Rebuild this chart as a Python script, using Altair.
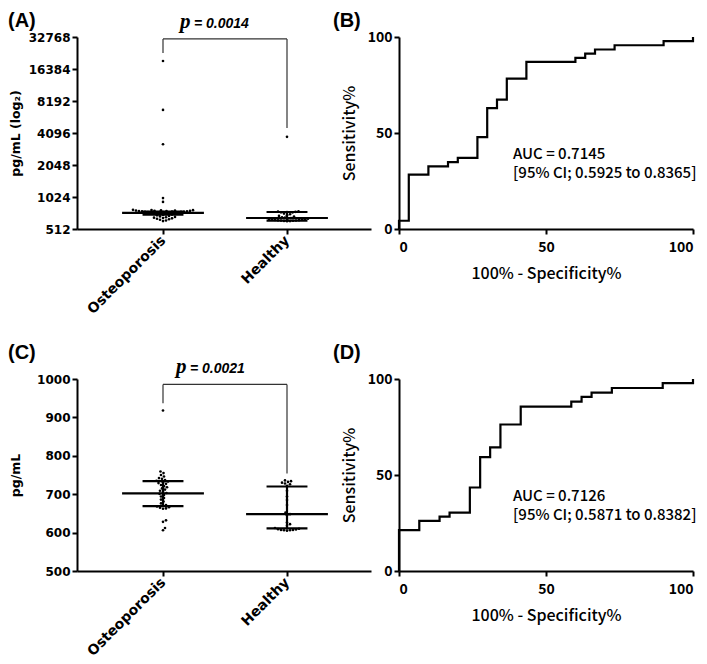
import math
import altair as alt
import pandas as pd

# ---------------- data ----------------
groups = ["Osteoporosis", "Healthy"]

# Panel A (pg/mL, log2 axis)
a_osteo = [19500, 6750, 3210, 1000, 920,
           775, 772, 770, 768, 765, 763, 760, 758, 756, 754, 752, 750, 748, 746, 744,
           742, 740, 738, 736, 734, 728, 724, 720, 716, 712, 706, 700, 694, 688, 680,
           672, 665, 660, 655, 650, 645, 640, 632, 625, 615, 608]
a_healthy = [3770, 750, 745, 742, 738, 735, 732, 715, 705, 690, 680, 670, 660, 655,
             648, 645, 640, 636, 632, 628, 625, 622, 620, 618, 616, 614, 612, 610, 608, 606]
a_median = [727, 650]
a_q1 = [700, 615]
a_q3 = [745, 740]
a_p_text = "= 0.0014"
a_ticks = [512, 1024, 2048, 4096, 8192, 16384, 32768]

# Panel C (pg/mL, linear axis)
c_osteo = [918, 759, 755, 750, 746, 742, 740, 737, 735, 733, 731, 729, 727, 724, 721,
           718, 715, 712, 709, 706, 703, 701, 698, 694, 690, 686, 681, 676, 672, 670,
           668, 666, 665, 663, 662, 632, 628, 612, 606]
c_healthy = [736, 734, 732, 730, 728, 726, 722, 709, 694, 685, 672, 652, 648, 645,
             626, 622, 618, 612, 610, 609, 608, 607, 607, 606, 606, 605]
c_median = [702, 648]
c_q1 = [669, 611]
c_q3 = [734, 720]
c_p_text = "= 0.0021"
c_ticks = [500, 600, 700, 800, 900, 1000]

# ROC curves (100% - specificity, sensitivity)
b_fpr = [0, 0, 3.33, 10, 16.67, 20, 26.67, 30, 33.33, 36.67, 43.33, 60, 63.33, 66.67, 73.33, 90, 100]
b_tpr = [0, 4.3, 28.3, 32.6, 34.8, 37.0, 47.8, 63.0, 67.4, 78.3, 87.0, 89.1, 91.3, 93.5, 95.7, 97.8, 100]
b_auc = ["AUC = 0.7145", "[95% CI; 0.5925 to 0.8365]"]

d_fpr = [0, 0, 6.9, 13.8, 17.2, 24.1, 27.6, 31.0, 34.5, 41.4, 58.6, 62.1, 65.5, 72.4, 89.7, 100]
d_tpr = [0, 21.3, 26.1, 28.3, 30.4, 43.5, 59.3, 64.4, 76.3, 85.6, 88.2, 90.7, 92.9, 95.3, 97.9, 100]
d_auc = ["AUC = 0.7126", "[95% CI; 0.5871 to 0.8382]"]
roc_ticks = [0, 50, 100]

# ---------------- layout constants ----------------
W, H = 294, 192
XU = 124.0                      # px per category unit
XD = [1 - 86 / XU, 1 - 86 / XU + W / XU]
DOT = 3.0
BLACK = "#000000"
SANS = "Noto Sans CJK JP"
BOLD_AX = "DejaVu Sans"


def swarm(ypx, d=DOT):
    placed, offs = [], []
    for y in ypx:
        best = None
        k = 0
        while best is None:
            for sgn in ([1] if k == 0 else [1, -1]):
                x = sgn * k * 0.5
                if all((x - px) ** 2 + (y - py) ** 2 >= d * d for px, py in placed):
                    best = x
                    break
            k += 1
        placed.append((best, y))
        offs.append(best)
    return offs


def points_df(lists, to_px):
    rows = []
    for gi, vals in enumerate(lists):
        vs = sorted(vals)
        offs = swarm([to_px(v) for v in vs])
        for v, o in zip(vs, offs):
            rows.append({"x": gi + 1 + o / XU, "v": v})
    return pd.DataFrame(rows)


def txt(s, x, y, **kw):
    return alt.Chart(pd.DataFrame({"t": [s]})).mark_text(**kw).encode(
        text="t:N", x=alt.value(x), y=alt.value(y))


def dot_panel(lists, med, q1, q3, yscale, yaxis, to_px, bracket, ptext, ptxt_x, ptxt_y, letter, letter_y):
    pts = points_df(lists, to_px)
    xs = alt.Scale(domain=XD, nice=False, zero=False)
    label_expr = " : ".join(
        [f"datum.value == {i + 1} ? '{g}'" for i, g in enumerate(groups)]) + " : ''"
    xaxis = alt.Axis(values=[1, 2], labelExpr=label_expr, title=None, labelAngle=-45,
                     labelAlign="right", labelBaseline="middle", labelPadding=4,
                     labelFont=BOLD_AX, labelFontWeight="bold", labelFontSize=14,
                     tickSize=5, grid=False, labelOverlap=False)

    def X(f):
        return alt.X(f, scale=xs, axis=xaxis)

    def Y(f):
        return alt.Y(f, scale=yscale, axis=yaxis)

    base_pts = alt.Chart(pts).mark_circle(size=7, color=BLACK, opacity=1).encode(
        x=X("x:Q"), y=Y("v:Q"))
    st = pd.DataFrame({"g": [1, 2], "med": med, "q1": q1, "q3": q3})
    st["m0"] = st["g"] - 0.33
    st["m1"] = st["g"] + 0.33
    st["e0"] = st["g"] - 0.165
    st["e1"] = st["g"] + 0.165
    sb = alt.Chart(st)

    med_r = sb.mark_rule(strokeWidth=2.2, color=BLACK).encode(x=X("m0:Q"), x2="m1", y=Y("med:Q"))
    q1_r = sb.mark_rule(strokeWidth=2.2, color=BLACK).encode(x=X("e0:Q"), x2="e1", y=Y("q1:Q"))
    q3_r = sb.mark_rule(strokeWidth=2.2, color=BLACK).encode(x=X("e0:Q"), x2="e1", y=Y("q3:Q"))
    vert = sb.mark_rule(strokeWidth=2.2, color=BLACK).encode(x=X("g:Q"), y=Y("q1:Q"), y2="q3")
    top, left_bot, right_bot = bracket
    br = pd.DataFrame({"x0": [1, 1, 2], "x1": [2, 1, 2],
                       "y0": [top, top, top], "y1": [top, left_bot, right_bot]})
    br_r = alt.Chart(br).mark_rule(strokeWidth=1.2, color="#333333").encode(
        x=X("x0:Q"), x2="x1", y=Y("y0:Q"), y2="y1")
    p1 = txt("p", ptxt_x, ptxt_y, font="Liberation Serif", fontStyle="italic",
             fontWeight="bold", fontSize=21, align="left", baseline="alphabetic", color=BLACK)
    p2 = txt(ptext, ptxt_x + 14, ptxt_y, font="Liberation Sans", fontStyle="italic",
             fontWeight="bold", fontSize=14, align="left", baseline="alphabetic", color=BLACK)
    lab = txt(letter, -69, letter_y, font="Liberation Sans", fontWeight="bold", fontSize=20,
              align="left", baseline="top", color=BLACK)
    return alt.layer(base_pts, med_r, q1_r, q3_r, vert, br_r, p1, p2, lab).properties(width=W, height=H)


def roc_panel(fpr, tpr, auc, letter, letter_y):
    df = pd.DataFrame({"f": fpr, "s": tpr, "i": list(range(len(fpr)))})
    ax_common = dict(values=roc_ticks, grid=False, tickSize=5, labelFont=SANS,
                     labelFontSize=14, labelFontWeight="bold", titleFont=SANS,
                     titleFontSize=16, titleFontWeight=500, labelOverlap=False)
    line = alt.Chart(df).mark_line(interpolate="step-after", color=BLACK, strokeWidth=2.2).encode(
        x=alt.X("f:Q", scale=alt.Scale(domain=[0, 100], nice=False),
                axis=alt.Axis(title="100% - Specificity%", titleY=44, titleBaseline="middle",
                              labelPadding=6, **ax_common)),
        y=alt.Y("s:Q", scale=alt.Scale(domain=[0, 100], nice=False),
                axis=alt.Axis(title="Sensitivity%", titleX=-50, titleY=H / 2, titleAngle=-90,
                              titleAlign="center", titleBaseline="middle", labelPadding=2,
                              **ax_common)),
        order="i:Q",
    )
    t1 = txt(auc[0], 114, 116.5, font=SANS, fontSize=15, fontWeight=500, align="left",
             baseline="middle", color=BLACK)
    t2 = txt(auc[1], 114, 135.5, font=SANS, fontSize=15, fontWeight=500, align="left",
             baseline="middle", color=BLACK)
    lab = txt(letter, -66, letter_y, font="Liberation Sans", fontWeight="bold", fontSize=20,
              align="left", baseline="top", color=BLACK)
    return alt.layer(line, t1, t2, lab).properties(width=W, height=H)


ax_dot = dict(grid=False, tickSize=5, labelPadding=2, labelFont=BOLD_AX, labelFontWeight="bold",
              labelFontSize=12, titleFont=BOLD_AX, titleFontWeight="bold", titleFontSize=12.5,
              titleAngle=-90, titleX=-62, titleY=H / 2, titleAlign="center",
              titleBaseline="middle", labelOverlap=False, labelSeparation=0)

ya_scale = alt.Scale(type="log", base=2, domain=[a_ticks[0], a_ticks[-1]], nice=False)
ya_axis = alt.Axis(values=a_ticks, format="d", title="pg/mL (log\u2082)", **ax_dot)
to_px_a = lambda v: math.log2(v / 512) * 32

yc_scale = alt.Scale(domain=[c_ticks[0], c_ticks[-1]], nice=False, zero=False)
yc_axis = alt.Axis(values=c_ticks, format="d", title="pg/mL", **ax_dot)
to_px_c = lambda v: (v - 500) * 0.384

pA = dot_panel([a_osteo, a_healthy], a_median, a_q1, a_q3, ya_scale, ya_axis, to_px_a,
               (31400, 23170, 4563), a_p_text, 103, -9, "(A)", -26)
pB = roc_panel(b_fpr, b_tpr, b_auc, "(B)", -26)
pC = dot_panel([c_osteo, c_healthy], c_median, c_q1, c_q3, yc_scale, yc_axis, to_px_c,
               (986, 937, 754), c_p_text, 99, -6, "(C)", -36)
pD = roc_panel(d_fpr, d_tpr, d_auc, "(D)", -36)

chart = alt.concat(pA, pB, pC, pD, columns=2, spacing={"row": 150, "column": 28}).properties(
    bounds="flush", padding={"top": 3, "left": 0, "right": 0, "bottom": 0}
).configure_view(stroke=None).configure_axis(
    domainColor=BLACK, domainWidth=2, tickColor=BLACK, tickWidth=2, labelColor=BLACK,
    titleColor=BLACK, labelOverlap=False
)

chart.save("out.html", embed_options={"renderer": "svg", "actions": False})
